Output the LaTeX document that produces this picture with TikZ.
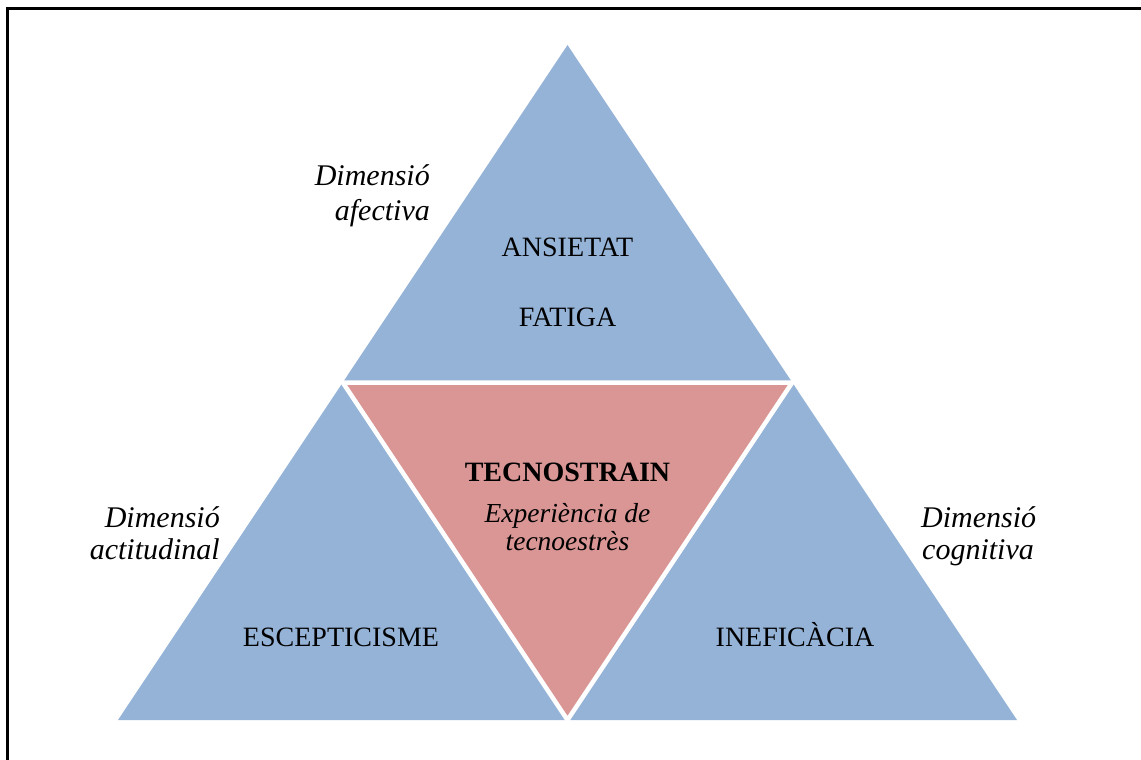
\documentclass[tikz,border=0pt]{standalone}
\usepackage{fontspec}
\setmainfont{Liberation Serif}
\usetikzlibrary{calc}
\definecolor{dimblue}{HTML}{95B3D7}
\definecolor{strainred}{HTML}{D99694}
\tikzset{
  lbl/.style={inner sep=0pt, font=\fontsize{28}{30}\selectfont},
  inlbl/.style={inner sep=0pt, font=\fontsize{27.5}{30}\selectfont\itshape},
  dimlbl/.style={inner sep=0pt, font=\fontsize{30}{32}\selectfont\itshape},
}
\begin{document}
\begin{tikzpicture}[x=1pt,y=-1pt]
\useasboundingbox (0,0) rectangle (1141,760);
% frame (top and left edges visible)
\draw[line width=3pt] (7,760) -- (7,9) -- (1141,9);
% outer triangle corners and edge midpoints
\coordinate (A) at (118,720);
\coordinate (B) at (1017,720);
\coordinate (C) at (567.5,45);
\coordinate (AC) at ($(A)!0.5!(C)$);
\coordinate (BC) at ($(B)!0.5!(C)$);
\coordinate (AB) at ($(A)!0.5!(B)$);
% three blue dimension triangles
\fill[dimblue] (A) -- (B) -- (C) -- cycle;
% central tecnostrain triangle
\fill[strainred] (AC) -- (BC) -- (AB) -- cycle;
% white gaps between the four parts
\draw[white, line width=4.5pt, line join=miter] (AC) -- (BC) -- (AB) -- cycle;
% texts inside the triangles
\node[lbl, anchor=base] (ans) at (567.5,256) {ANSIETAT};
\node[lbl, anchor=base] (fat) at (567.5,326) {FATIGA};
\node[lbl, anchor=base, font=\fontsize{28}{30}\selectfont\bfseries] (tec) at (567.5,481) {TECNOSTRAIN};
\node[inlbl, anchor=base] (exp) at (567.5,522) {Experiència de};
\node[inlbl, anchor=base] (tes) at (567.5,550) {tecnoestrès};
\node[lbl, anchor=base] (esc) at (341,646) {ESCEPTICISME};
\node[lbl, anchor=base] (ine) at (795,646) {INEFICÀCIA};
% dimension labels
\node[dimlbl, anchor=base east] (d1) at (430,185) {Dimensió};
\node[dimlbl, anchor=base east] (d1b) at (430,220) {afectiva};
\node[dimlbl, anchor=base east] (d2) at (220,527) {Dimensió};
\node[dimlbl, anchor=base east] (d2b) at (220,559) {actitudinal};
\node[dimlbl, anchor=base west] (d3) at (921,527) {Dimensió};
\node[dimlbl, anchor=base west] (d3b) at (922,559) {cognitiva};
\end{tikzpicture}
\end{document}
